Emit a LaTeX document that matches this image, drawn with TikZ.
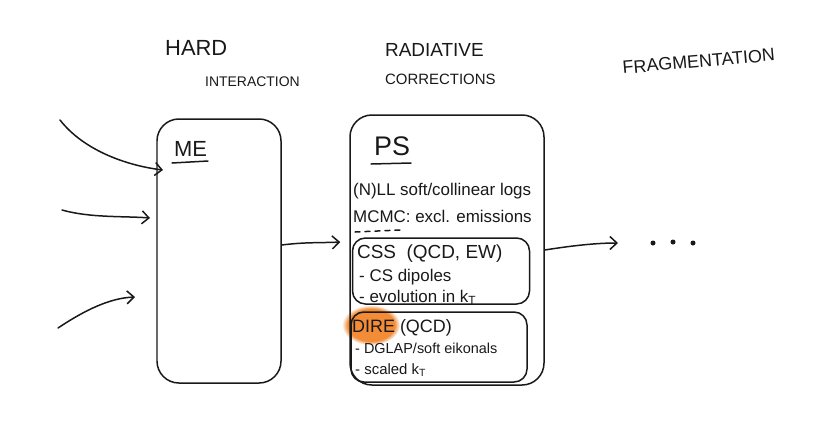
\documentclass[tikz,border=0pt]{standalone}
\usepackage{fontspec}
\setmainfont{Liberation Sans}
\usetikzlibrary{arrows.meta,fadings}
\definecolor{ink}{RGB}{25,25,25}
\definecolor{hl}{RGB}{242,140,55}
\newcommand{\fs}[1]{\fontsize{#1}{#1}\selectfont}
\begin{document}
\begin{tikzpicture}[x=1bp,y=1bp,
  inkline/.style={draw=ink,line width=1.5pt,line cap=round,line join=round},
  bigbox/.style={inkline,rounded corners=22pt,inner sep=0pt},
  subbox/.style={inkline,rounded corners=13pt,inner sep=0pt},
  tip/.style={-{Straight Barb[length=7bp,width=13bp,line width=1.5pt]}},
  txt/.style={text=ink,inner sep=0pt,anchor=base west},
  dotn/.style={circle,fill=ink,inner sep=0pt,minimum size=5bp}]
\useasboundingbox (0,0) rectangle (820,-420);
\fill[white] (0,0) rectangle (820,-420);
% headings
\node[txt,font=\fs{22}] (hard) at (165,-55) {HARD};
\node[txt,font=\fs{14}] (inter) at (205,-86) {INTERACTION};
\node[txt,font=\fs{19}] (rad) at (385,-56) {RADIATIVE};
\node[txt,font=\fs{15}] (corr) at (385,-84) {CORRECTIONS};
\node[txt,font=\fs{18},rotate=5] (frag) at (623,-74) {FRAGMENTATION};
% highlight
\fill[hl,path fading=circle with fuzzy edge 20 percent] (371,-325) ellipse [x radius=29, y radius=20];
% boxes
\node[bigbox,minimum width=124bp,minimum height=264bp] (me) at (219,-251) {};
\node[bigbox,minimum width=194bp,minimum height=270bp] (ps) at (447,-250) {};
\node[subbox,minimum width=177bp,minimum height=66bp] (css) at (441,-271) {};
\node[subbox,minimum width=176bp,minimum height=70bp] (dire) at (439,-347) {};
% ME
\node[txt,font=\fs{22}] (melab) at (174,-156) {ME};
\draw[inkline] (172,-163) -- (208,-161);
% PS
\node[txt,font=\fs{27}] (pslab) at (374,-155) {PS};
\draw[inkline] (371,-164) -- (411,-163);
\node[txt,font=\fs{17}] (nll) at (353,-195) {(N)LL soft/collinear logs};
\node[txt,font=\fs{17}] (mcmc) at (353,-222) {MCMC: excl. emissions};
\draw[inkline,dash pattern=on 5bp off 5bp] (355,-232) -- (400,-230);
\node[txt,font=\fs{19}] (csst) at (357,-258) {CSS\ \ (QCD, EW)};
\node[txt,font=\fs{17}] (css1) at (359,-281) {- CS dipoles};
\node[txt,font=\fs{17}] (css2) at (359,-302) {- evolution in k\textsubscript{T}};
\node[txt,font=\fs{18}] (diret) at (352,-332) {DIRE (QCD)};
\node[txt,font=\fs{14.5}] (dire1) at (355,-353) {- DGLAP/soft eikonals};
\node[txt,font=\fs{15}] (dire2) at (355,-374) {- scaled k\textsubscript{T}};
% incoming arrows
\coordinate (s1) at (60,-120); \coordinate (e1) at (163,-170);
\coordinate (s2) at (62,-210); \coordinate (e2) at (150,-218);
\coordinate (s3) at (58,-328); \coordinate (e3) at (135,-297);
\draw[inkline,tip] (s1) .. controls (85,-152) and (130,-166) .. (e1);
\draw[inkline,tip] (s2) .. controls (90,-218) and (125,-216) .. (e2);
\draw[inkline,tip] (s3) .. controls (85,-310) and (110,-298) .. (e3);
% ME -> PS
\draw[inkline,tip] ([yshift=6bp]me.east) .. controls (305,-242) and (320,-243) .. ([xshift=-9bp,yshift=8bp]ps.west);
% PS -> fragmentation
\coordinate (fe) at (618,-243);
\draw[inkline,tip] (ps.east) .. controls (570,-246) and (595,-243) .. (fe);
\node[dotn] (d1) at (653,-243) {};
\node[dotn] (d2) at (673,-242) {};
\node[dotn] (d3) at (693,-243) {};
\end{tikzpicture}
\end{document}
